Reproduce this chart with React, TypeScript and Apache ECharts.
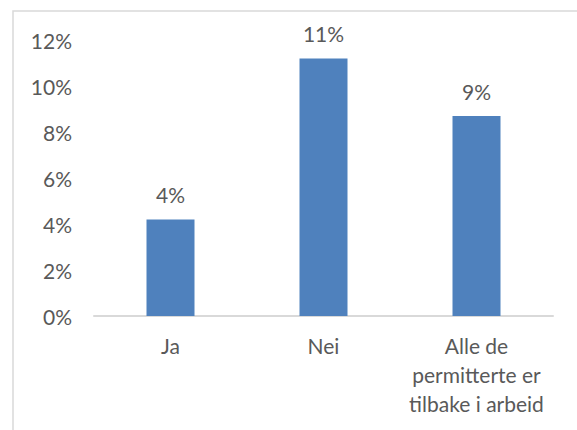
import React, { useEffect, useRef } from "react";
import * as echarts from "echarts";

const categories = ["Ja", "Nei", "Alle de\npermitterte er\ntilbake i arbeid"];
const values = [4.2, 11.2, 8.7];
const yTicks = { min: 0, max: 12, interval: 2 };

const FONT = "Lato, 'Open Sans', sans-serif";
const TEXT = "#595959";

export default function App() {
  const ref = useRef<HTMLDivElement>(null);
  useEffect(() => {
    if (!ref.current) return;
    const chart = echarts.init(ref.current, undefined, { renderer: "svg" });
    chart.setOption({
      animation: false,
      textStyle: { fontFamily: FONT },
      graphic: [
        {
          type: "rect",
          shape: { x: 13, y: 11, width: 700, height: 600 },
          style: { fill: "none", stroke: "#d9d9d9", lineWidth: 1.5 },
          silent: true,
        },
      ],
      grid: { left: 94, right: 24, top: 40, bottom: 114 },
      xAxis: {
        type: "category",
        data: categories,
        axisLine: { lineStyle: { color: "#d9d9d9", width: 2 } },
        axisTick: { show: false },
        axisLabel: {
          color: TEXT,
          fontSize: 21,
          fontFamily: FONT,
          lineHeight: 29,
          margin: 15,
          interval: 0,
        },
      },
      yAxis: {
        type: "value",
        min: yTicks.min,
        max: yTicks.max,
        interval: yTicks.interval,
        axisLine: { show: false },
        axisTick: { show: false },
        splitLine: { show: false },
        axisLabel: {
          color: TEXT,
          fontSize: 21,
          fontFamily: FONT,
          margin: 22,
          formatter: "{value}%",
        },
      },
      series: [
        {
          type: "bar",
          data: values,
          barWidth: 48,
          itemStyle: { color: "#4f81bd" },
          label: {
            show: true,
            position: "top",
            distance: 14,
            color: TEXT,
            fontSize: 21,
            fontFamily: FONT,
            formatter: (p: any) => Math.round(p.value) + "%",
          },
        },
      ],
    });
    return () => chart.dispose();
  }, []);
  return (
    <div
      ref={ref}
      style={{ position: "fixed", left: 0, top: 0, width: 577, height: 430, background: "#fff" }}
    />
  );
}
